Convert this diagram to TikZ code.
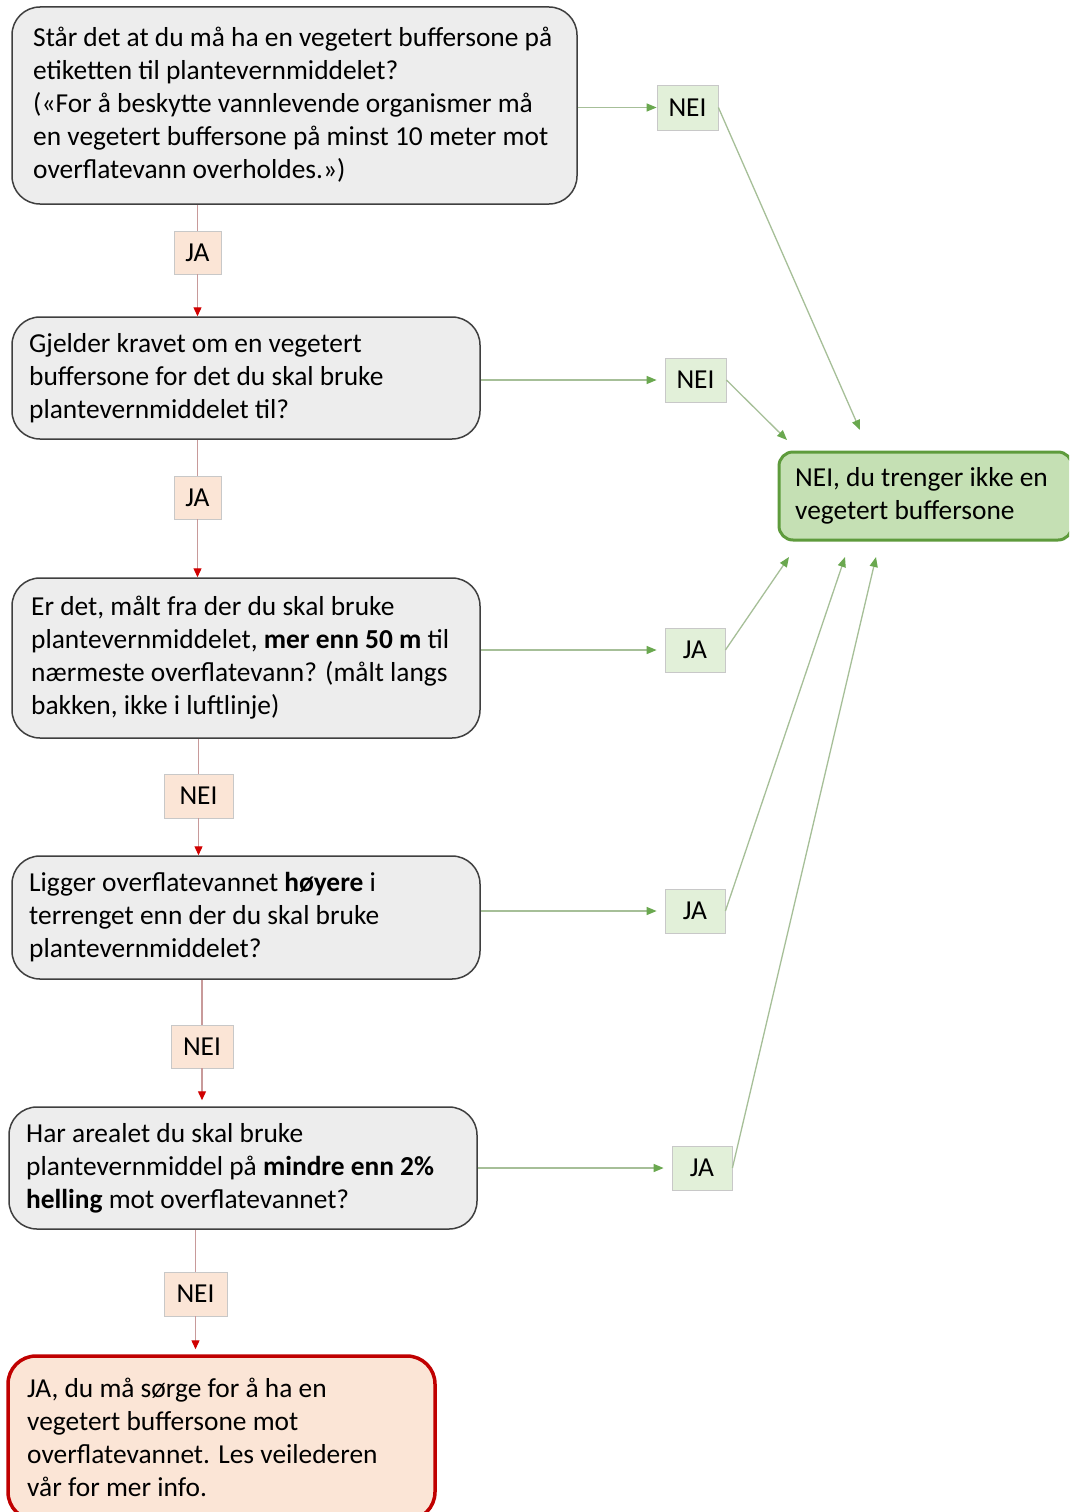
\documentclass[tikz,border=0pt]{standalone}
\usepackage{fontspec}
\setmainfont{Carlito}
\usetikzlibrary{arrows.meta}
\definecolor{qfill}{HTML}{EDEDED}
\definecolor{qdraw}{HTML}{3F3F3F}
\definecolor{peach}{HTML}{FBE5D6}
\definecolor{lgreen}{HTML}{E2F0D9}
\definecolor{mgreen}{HTML}{C5E0B4}
\definecolor{dgreen}{HTML}{5E9B3C}
\definecolor{dred}{HTML}{C00000}
\definecolor{lblborder}{HTML}{C8C8C8}
\definecolor{redline}{HTML}{C89A9A}
\definecolor{greenline}{HTML}{A6BF98}
\definecolor{greentip}{HTML}{6AA84F}
\definecolor{redtip}{HTML}{D00000}
\begin{document}
\begin{tikzpicture}[x=1pt,y=-1pt,
  every node/.style={font=\fontsize{27.4}{33}\selectfont},
  qbox/.style={draw=qdraw,line width=1.5pt,fill=qfill,rounded corners=28pt,rectangle,inner sep=0pt},
  endred/.style={draw=dred,line width=3.5pt,fill=peach,rounded corners=28pt,rectangle,inner sep=0pt},
  endgreen/.style={draw=dgreen,line width=3pt,fill=mgreen,rounded corners=14pt,rectangle,inner sep=0pt},
  txt/.style={anchor=west,align=left,inner sep=0pt,text=black},
  plbl/.style={draw=lblborder,line width=0.8pt,fill=peach,inner sep=0pt},
  glbl/.style={draw=lblborder,line width=0.8pt,fill=lgreen,inner sep=0pt},
  redarr/.style={draw=redline,line width=1.3pt,-{Triangle[length=9pt,width=8pt,color=redtip]}},
  redln/.style={draw=redline,line width=1.3pt},
  grarr/.style={draw=greenline,line width=1.3pt,-{Triangle[length=10pt,width=8pt,color=greentip]}}
]
\useasboundingbox (0,0) rectangle (1069,1512);
\clip (0,0) rectangle (1069,1512);
\fill[white] (0,0) rectangle (1069,1512);

% question boxes
\node[qbox,minimum width=565pt,minimum height=197pt] (q1) at (294.5,105.5) {};
\node[txt] (t1) at (33,105) {Står det at du må ha en vegetert buffersone på\\etiketten til plantevernmiddelet?\\(«For å beskytte vannlevende organismer må\\en vegetert buffersone på minst 10 meter mot\\overflatevann overholdes.»)};

\node[qbox,minimum width=468pt,minimum height=122pt] (q2) at (246,378) {};
\node[txt] (t2) at (29,378) {Gjelder kravet om en vegetert\\buffersone for det du skal bruke\\plantevernmiddelet til?};

\node[qbox,minimum width=468pt,minimum height=160pt] (q3) at (246,658) {};
\node[txt] (t3) at (31,657.5) {Er det, målt fra der du skal bruke\\plantevernmiddelet, \textbf{mer enn 50 m} til\\nærmeste overflatevann? (målt langs\\bakken, ikke i luftlinje)};

\node[qbox,minimum width=468pt,minimum height=123pt] (q4) at (246,917.5) {};
\node[txt] (t4) at (29,917.5) {Ligger overflatevannet \textbf{høyere} i\\terrenget enn der du skal bruke\\plantevernmiddelet?};

\node[qbox,minimum width=468pt,minimum height=122pt] (q5) at (243,1168) {};
\node[txt] (t5) at (26,1168) {Har arealet du skal bruke\\plantevernmiddel på \textbf{mindre enn 2\%}\\\textbf{helling} mot overflatevannet?};

% end boxes
\node[endred,minimum width=427pt,minimum height=164pt] (ej) at (221.5,1438) {};
\node[txt] (tej) at (27,1437) {JA, du må sørge for å ha en\\vegetert buffersone mot\\overflatevannet. Les veilederen\\vår for mer info.};

\node[endgreen,minimum width=293pt,minimum height=88pt] (en) at (925.5,496) {};
\node[txt] (ten) at (795,496) {NEI, du trenger ikke en\\vegetert buffersone};

% vertical labels
\node[plbl,minimum width=47pt,minimum height=43pt] (ja1) at (197.5,252.5) {JA};
\node[plbl,minimum width=47pt,minimum height=43pt] (ja2) at (197.5,497.5) {JA};
\node[plbl,minimum width=69pt,minimum height=44pt] (nei3) at (198.5,796) {NEI};
\node[plbl,minimum width=62pt,minimum height=43pt] (nei4) at (202,1046.5) {NEI};
\node[plbl,minimum width=63pt,minimum height=44pt] (nei5) at (195.5,1294) {NEI};

% side labels
\node[glbl,minimum width=61pt,minimum height=45pt] (na) at (687.5,107.5) {NEI};
\node[glbl,minimum width=61pt,minimum height=44pt] (nb) at (695.5,380) {NEI};
\node[glbl,minimum width=60pt,minimum height=44pt] (jc) at (695,650) {JA};
\node[glbl,minimum width=60pt,minimum height=44pt] (jd) at (695,911) {JA};
\node[glbl,minimum width=60pt,minimum height=44pt] (je) at (702,1168) {JA};

% vertical connectors
\draw[redln] (ja1.north |- q1.south) -- (ja1.north);
\draw[redarr] (ja1.south) -- (ja1.south |- q2.north);
\draw[redln] (ja2.north |- q2.south) -- (ja2.north);
\draw[redarr] (ja2.south) -- (ja2.south |- q3.north);
\draw[redln] (nei3.north |- q3.south) -- (nei3.north);
\draw[redarr] (nei3.south) -- (nei3.south |- q4.north);
\draw[redln] (nei4.north |- q4.south) -- (nei4.north);
\draw[redarr] (nei4.south) -- ([yshift=6pt]nei4.south |- q5.north);
\draw[redln] (nei5.north |- q5.south) -- (nei5.north);
\draw[redarr] (nei5.south) -- ([yshift=5pt]nei5.south |- ej.north);

% horizontal connectors
\draw[grarr] (q1.east |- na.west) -- (na.west);
\draw[grarr] (q2.east |- nb.west) -- ([xshift=-8pt]nb.west);
\draw[grarr] (q3.east |- jc.west) -- ([xshift=-8pt]jc.west);
\draw[grarr] (q4.east |- jd.west) -- ([xshift=-8pt]jd.west);
\draw[grarr] (q5.east |- je.west) -- ([xshift=-8pt]je.west);

% diagonal connectors to green end
\coordinate (ca) at (860,430);
\coordinate (cb) at (787,440);
\coordinate (cc) at (789,557);
\coordinate (cd) at (845,557);
\coordinate (ce) at (876,557);
\draw[grarr] (na.east) -- (ca);
\draw[grarr] (nb.east) -- (cb);
\draw[grarr] (jc.east) -- (cc);
\draw[grarr] (jd.east) -- (cd);
\draw[grarr] (je.east) -- (ce);
\end{tikzpicture}
\end{document}
